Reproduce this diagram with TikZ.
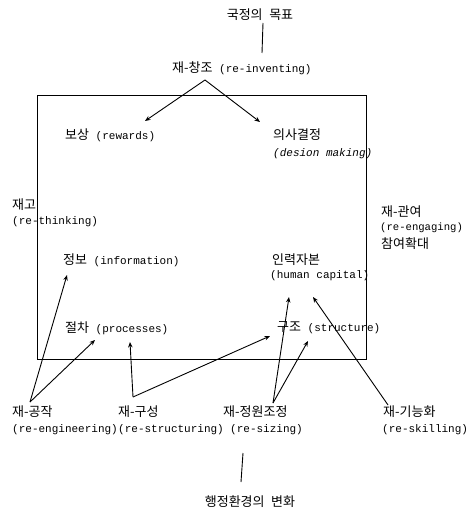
\documentclass[tikz,border=0pt]{standalone}
\usepackage{fontspec}
\setmainfont{Liberation Mono}
\newfontfamily\korfont{Noto Sans CJK KR}
\newcommand{\ko}[1]{{\korfont\fontsize{13}{15}\selectfont #1}}
\usetikzlibrary{arrows.meta}
\begin{document}
\begin{tikzpicture}[x=1pt,y=-1pt,
  lbl/.style={inner sep=0pt,anchor=west,font=\fontsize{11}{13}\selectfont},
  ln/.style={line width=0.9pt},
  arr/.style={line width=0.9pt,-{Stealth[length=5.5pt,width=4.5pt]}}]
\useasboundingbox (0,0) rectangle (467,510);
% frame
\draw[ln] (37,95) rectangle (366,359);
% top
\node[lbl,anchor=center] (goal) at (260,15) {\ko{국정의} \ko{목표}};
\node[lbl] (reinv) at (172,68) {\ko{재-창조} (re-inventing)};
\coordinate (g1) at (263,23);
\coordinate (g2) at (262,53);
\draw[ln] (g1) -- (g2);
% inner labels
\node[lbl] (rew) at (65,135) {\ko{보상} (rewards)};
\node[lbl] (dec1) at (273,135) {\ko{의사결정}};
\node[lbl] (dec2) at (273,154) {\itshape (desion making)};
\node[lbl] (rth1) at (12,205) {\ko{재고}};
\node[lbl] (rth2) at (12,222) {(re-thinking)};
\node[lbl] (reg1) at (381,212) {\ko{재-관여}};
\node[lbl,font=\fontsize{10.6}{12}\selectfont] (reg2) at (380,228) {(re-engaging)};
\node[lbl] (reg3) at (381,244) {\ko{참여확대}};
\node[lbl] (info) at (63,260) {\ko{정보} (information)};
\node[lbl] (hum1) at (272,260) {\ko{인력자본}};
\node[lbl] (hum2) at (270,276) {(human capital)};
\node[lbl] (proc) at (65,328) {\ko{절차} (processes)};
\node[lbl] (str) at (277,328) {\ko{구조} (structure)};
% bottom labels
\node[lbl] (eng1) at (12,412) {\ko{재-공작}};
\node[lbl] (eng2) at (12,430) {(re-engineering)};
\node[lbl] (rst1) at (118,412) {\ko{재-구성}};
\node[lbl] (rst2) at (eng2.east) {(re-structuring)};
\node[lbl] (siz1) at (223,412) {\ko{재-정원조정}};
\node[lbl] (siz2) at (230,430) {(re-sizing)};
\node[lbl] (skl1) at (383,412) {\ko{재-기능화}};
\node[lbl] (skl2) at (382,430) {(re-skilling)};
\node[lbl,anchor=center] (env) at (250,502) {\ko{행정환경의} \ko{변화}};
\coordinate (b1) at (243,453);
\coordinate (b2) at (241,482);
\draw[ln] (b1) -- (b2);
% arrow points
\coordinate (A) at (205,80);
\coordinate (tRew) at (145,121);
\coordinate (tDec) at (260,122);
\coordinate (E) at (30,402);
\coordinate (tInfo) at (67,275);
\coordinate (tProc1) at (95,340);
\coordinate (R) at (133,397);
\coordinate (tProc2) at (130,342);
\coordinate (tStr1) at (270,336);
\coordinate (S) at (273,403);
\coordinate (tHum1) at (289,297);
\coordinate (tStr2) at (308,341);
\coordinate (Kk) at (388,405);
\coordinate (tHum2) at (313,297);
\draw[arr] (A) -- (tRew);
\draw[arr] (A) -- (tDec);
\draw[arr] (E) -- (tInfo);
\draw[arr] (E) -- (tProc1);
\draw[arr] (R) -- (tProc2);
\draw[arr] (R) -- (tStr1);
\draw[arr] (S) -- (tHum1);
\draw[arr] (S) -- (tStr2);
\draw[arr] (Kk) -- (tHum2);
\end{tikzpicture}
\end{document}
